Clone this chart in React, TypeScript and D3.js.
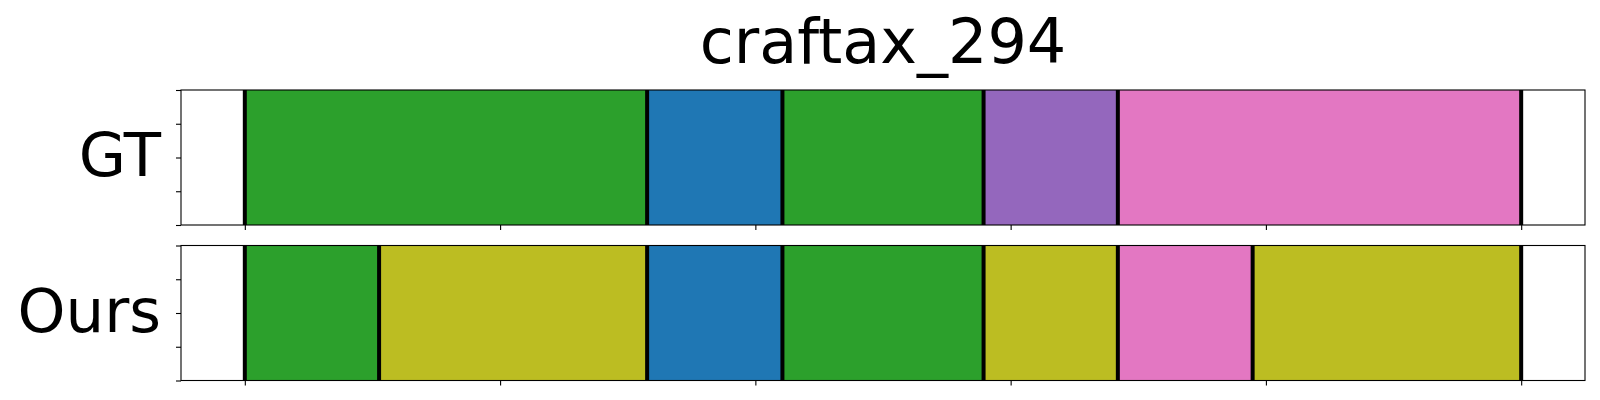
import { useEffect, useRef } from 'react'
import * as d3 from 'd3'

const title = 'craftax_294'
const rowLabels = ['GT', 'Ours']

// segment boundaries (frame index) and class id per segment, one pair per row
const gtBounds = [0, 78.8, 105.3, 144.7, 171, 250]
const gtClasses = [2, 0, 2, 4, 6]
const oursBounds = [0, 26.3, 78.8, 105.3, 144.7, 171, 197.4, 250]
const oursClasses = [2, 8, 0, 2, 8, 6, 8]

const xTicks = [0, 50, 100, 150, 200, 250]
const yTicks = [0, 0.25, 0.5, 0.75, 1]

export default function App() {
  const svgRef = useRef<SVGSVGElement>(null)

  useEffect(() => {
    if (!svgRef.current) return

    const width = 1600
    const height = 400
    const left = 181
    const right = 1585
    const panelH = 135
    const panelTops = [90, 245.5]
    const font = '"DejaVu Sans", sans-serif'

    d3.select(svgRef.current).selectAll('*').remove()

    const svg = d3.select(svgRef.current)
      .attr('width', width)
      .attr('height', height)

    svg.append('rect')
      .attr('width', width)
      .attr('height', height)
      .attr('fill', '#ffffff')

    const x = d3.scaleLinear()
      .domain([-12.5, 262.5])
      .range([left, right])

    const color = d3.scaleOrdinal<number, string>()
      .domain(d3.range(10))
      .range(d3.schemeCategory10)

    const rows = [
      { label: rowLabels[0], bounds: gtBounds, classes: gtClasses },
      { label: rowLabels[1], bounds: oursBounds, classes: oursClasses },
    ]

    // Title
    svg.append('text')
      .attr('x', (left + right) / 2)
      .attr('y', 63)
      .attr('text-anchor', 'middle')
      .attr('font-family', font)
      .attr('font-size', '62px')
      .attr('fill', '#000')
      .text(title)

    rows.forEach((row, i) => {
      const top = panelTops[i]
      const y = d3.scaleLinear().domain([0, 1]).range([top + panelH, top])
      const g = svg.append('g')

      const segs = row.classes.map((c, j) => ({
        start: row.bounds[j],
        end: row.bounds[j + 1],
        cls: c,
      }))

      // Segments
      g.selectAll('rect.seg')
        .data(segs)
        .join('rect')
        .attr('class', 'seg')
        .attr('x', d => x(d.start))
        .attr('width', d => x(d.end) - x(d.start))
        .attr('y', y(1))
        .attr('height', y(0) - y(1))
        .attr('fill', d => color(d.cls))

      // Boundaries
      g.selectAll('line.bound')
        .data(row.bounds)
        .join('line')
        .attr('class', 'bound')
        .attr('x1', d => x(d))
        .attr('x2', d => x(d))
        .attr('y1', y(0))
        .attr('y2', y(1))
        .attr('stroke', '#000')
        .attr('stroke-width', 4)

      // Axes
      const yAxis = g.append('g')
        .attr('transform', `translate(${left},0)`)
        .call(d3.axisLeft(y).tickValues(yTicks).tickSize(5).tickFormat(() => ''))
      yAxis.select('.domain').remove()
      yAxis.selectAll('line').attr('stroke-width', 1.1)

      const xAxis = g.append('g')
        .attr('transform', `translate(0,${top + panelH})`)
        .call(d3.axisBottom(x).tickValues(xTicks).tickSize(5).tickFormat(() => ''))
      xAxis.select('.domain').remove()
      xAxis.selectAll('line').attr('stroke-width', 1.1)

      // Frame
      g.append('rect')
        .attr('x', left)
        .attr('y', top)
        .attr('width', right - left)
        .attr('height', panelH)
        .attr('fill', 'none')
        .attr('stroke', '#000')
        .attr('stroke-width', 1.1)

      // Row label
      g.append('text')
        .attr('x', 161)
        .attr('y', top + panelH / 2 + 18.5)
        .attr('text-anchor', 'end')
        .attr('font-family', font)
        .attr('font-size', '61px')
        .attr('fill', '#000')
        .text(row.label)
    })
  }, [])

  return (
    <svg ref={svgRef} style={{ position: 'absolute', left: 0, top: 0, display: 'block' }}></svg>
  )
}
